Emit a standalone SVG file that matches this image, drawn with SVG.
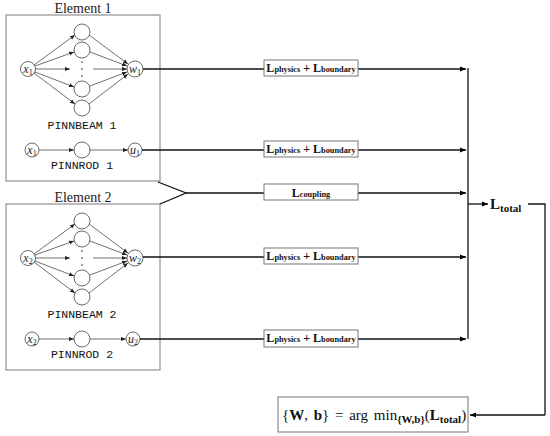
<svg xmlns="http://www.w3.org/2000/svg" width="550" height="436" viewBox="0 0 550 436">
<defs>
<marker id="ah" viewBox="0 0 10 10" refX="10" refY="5" markerWidth="6" markerHeight="6" markerUnits="userSpaceOnUse" orient="auto">
<path d="M0,1 L10,5 L0,9 Z" fill="#000"/>
</marker>
<marker id="as" viewBox="0 0 10 10" refX="10" refY="5" markerWidth="5" markerHeight="5" markerUnits="userSpaceOnUse" orient="auto">
<path d="M0,1 L10,5 L0,9 Z" fill="#222"/>
</marker>
</defs>
<style>
.elem{fill:#fff;stroke:#999;stroke-width:1.3}
.nd{fill:#fff;stroke:#444;stroke-width:0.8}
.na{stroke:#333;stroke-width:0.7;fill:none;marker-end:url(#as)}
.con{stroke:#111;stroke-width:1.3;fill:none}
.cona{stroke:#111;stroke-width:1.3;fill:none;marker-end:url(#ah)}
.lbox{fill:#fff;stroke:#777;stroke-width:1}
.ttl{font-family:"Liberation Serif",serif;font-size:14px;fill:#222;text-anchor:middle}
.mono{font-family:"Liberation Mono",monospace;font-size:11.5px;fill:#111;text-anchor:middle}
.var{font-family:"Liberation Serif",serif;font-style:italic;font-size:12px;fill:#222;text-anchor:middle}
.sub{font-style:normal;font-size:8px}
.loss{font-family:"Liberation Serif",serif;font-weight:bold;font-size:12px;fill:#111;text-anchor:middle}
.ls{font-size:8.3px}
.math{font-family:"Liberation Serif",serif;font-size:15px;fill:#111}
</style>

<g id="element1">
<rect class="elem" x="6" y="15" width="154" height="166"/>
<text class="ttl" x="83" y="13">Element 1</text>
</g>
<g id="element2">
<rect class="elem" x="6" y="204" width="154" height="166"/>
<text class="ttl" x="83" y="202">Element 2</text>
</g>

<g id="pinnbeam1">
<path class="na" d="M34,65 L75,35"/>
<path class="na" d="M35,66 L74,52"/>
<path class="na" d="M35,69 L70,69"/>
<path class="na" d="M35,72 L74,87"/>
<path class="na" d="M34,73 L75,104"/>
<path class="na" d="M89,35 L128,64"/>
<path class="na" d="M90,52 L127,66"/>
<path class="na" d="M93,69 L127,69"/>
<path class="na" d="M90,86 L127,72"/>
<path class="na" d="M89,104 L128,74"/>
<circle class="nd" cx="28" cy="69" r="7.5"/>
<circle class="nd" cx="82" cy="32" r="8"/>
<circle class="nd" cx="82" cy="50" r="8"/>
<circle class="nd" cx="82" cy="89" r="8"/>
<circle class="nd" cx="82" cy="108" r="8"/>
<circle class="nd" cx="135" cy="69" r="8"/>
<circle cx="82" cy="62" r="0.8" fill="#222"/>
<circle cx="82" cy="69" r="0.8" fill="#222"/>
<circle cx="82" cy="76" r="0.8" fill="#222"/>
<text class="var" x="28" y="73">x<tspan class="sub" dy="2">1</tspan></text>
<text class="var" x="135" y="73">w<tspan class="sub" dy="2">1</tspan></text>
<text class="mono" x="82" y="129">PINNBEAM 1</text>
</g>

<g id="pinnrod1">
<path class="na" d="M39,150 L74,150"/>
<path class="na" d="M90,150 L128,150"/>
<circle class="nd" cx="32" cy="150" r="7"/>
<circle class="nd" cx="82" cy="150" r="8"/>
<circle class="nd" cx="135" cy="150" r="7"/>
<text class="var" x="32" y="154">x<tspan class="sub" dy="2">1</tspan></text>
<text class="var" x="135" y="154">u<tspan class="sub" dy="2">1</tspan></text>
<text class="mono" x="82" y="169">PINNROD 1</text>
</g>

<g id="pinnbeam2">
<path class="na" d="M34,254 L75,224"/>
<path class="na" d="M35,255 L74,241"/>
<path class="na" d="M35,258 L70,258"/>
<path class="na" d="M35,261 L74,276"/>
<path class="na" d="M34,262 L75,293"/>
<path class="na" d="M89,224 L128,253"/>
<path class="na" d="M90,241 L127,255"/>
<path class="na" d="M93,258 L127,258"/>
<path class="na" d="M90,275 L127,261"/>
<path class="na" d="M89,293 L128,263"/>
<circle class="nd" cx="28" cy="258" r="7.5"/>
<circle class="nd" cx="82" cy="221" r="8"/>
<circle class="nd" cx="82" cy="239" r="8"/>
<circle class="nd" cx="82" cy="278" r="8"/>
<circle class="nd" cx="82" cy="297" r="8"/>
<circle class="nd" cx="135" cy="258" r="8"/>
<circle cx="82" cy="251" r="0.8" fill="#222"/>
<circle cx="82" cy="258" r="0.8" fill="#222"/>
<circle cx="82" cy="265" r="0.8" fill="#222"/>
<text class="var" x="28" y="262">x<tspan class="sub" dy="2">2</tspan></text>
<text class="var" x="135" y="262">w<tspan class="sub" dy="2">2</tspan></text>
<text class="mono" x="82" y="318">PINNBEAM 2</text>
</g>

<g id="pinnrod2">
<path class="na" d="M39,339 L74,339"/>
<path class="na" d="M90,339 L126,339"/>
<circle class="nd" cx="32" cy="339" r="7"/>
<circle class="nd" cx="82" cy="339" r="8"/>
<circle class="nd" cx="133" cy="339" r="7"/>
<text class="var" x="32" y="343">x<tspan class="sub" dy="2">2</tspan></text>
<text class="var" x="133" y="343">u<tspan class="sub" dy="2">2</tspan></text>
<text class="mono" x="82" y="358">PINNROD 2</text>
</g>

<g id="connectors">
<path class="cona" d="M143,69 L466,69"/>
<path class="cona" d="M142,150 L466,150"/>
<path class="con" d="M158,182 L186,193 L160,204"/>
<path class="cona" d="M186,193 L466,193"/>
<path class="cona" d="M143,257 L466,257"/>
<path class="cona" d="M140,339 L466,339"/>
<path class="con" d="M468,68 L468,339"/>
<path class="cona" d="M468,204 L488,204"/>
<path class="con" d="M528,204 L545,204 L545,415"/>
<path class="cona" d="M545,415 L470,415"/>
</g>

<g id="loss1">
<rect class="lbox" x="264" y="60" width="94" height="16"/>
<text class="loss" x="311" y="72">L<tspan class="ls">physics</tspan> + L<tspan class="ls">boundary</tspan></text>
</g>
<g id="loss2">
<rect class="lbox" x="264" y="141" width="94" height="16"/>
<text class="loss" x="311" y="153">L<tspan class="ls">physics</tspan> + L<tspan class="ls">boundary</tspan></text>
</g>
<g id="coupling">
<rect class="lbox" x="264" y="184" width="94" height="16"/>
<text class="loss" x="311" y="197">L<tspan class="ls" font-size="10.5">coupling</tspan></text>
</g>
<g id="loss3">
<rect class="lbox" x="264" y="248" width="94" height="16"/>
<text class="loss" x="311" y="260">L<tspan class="ls">physics</tspan> + L<tspan class="ls">boundary</tspan></text>
</g>
<g id="loss4">
<rect class="lbox" x="264" y="330" width="94" height="17"/>
<text class="loss" x="311" y="342">L<tspan class="ls">physics</tspan> + L<tspan class="ls">boundary</tspan></text>
</g>

<g id="ltotal">
<text class="math" x="490" y="209" font-weight="bold" font-size="16">L<tspan font-size="11" dy="3">total</tspan></text>
</g>

<g id="result">
<rect class="lbox" x="278" y="397" width="190" height="35" stroke="#666"/>
<text class="math" x="282" y="420" font-size="17" word-spacing="2">{<tspan font-weight="bold">W</tspan>, <tspan font-weight="bold">b</tspan>} = arg min<tspan font-size="11" font-weight="bold" dy="3">{W,b}</tspan><tspan dy="-3">(</tspan><tspan font-weight="bold">L</tspan><tspan font-size="11" font-weight="bold" dy="3">total</tspan><tspan dy="-3">)</tspan></text>
</g>
</svg>
